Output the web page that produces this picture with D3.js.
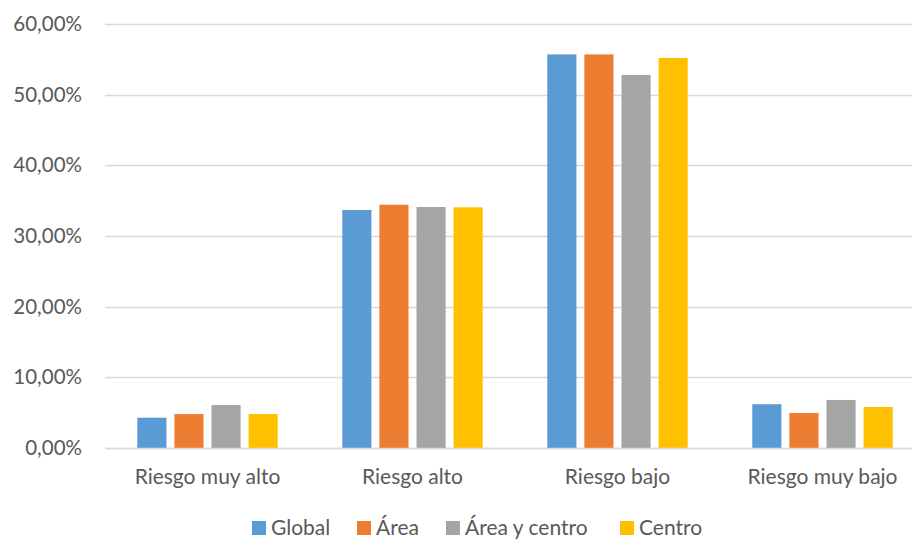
<!DOCTYPE html>
<html>
<head>
<meta charset="utf-8">
<script src="https://cdn.jsdelivr.net/npm/d3@7"></script>
<style>
  body { margin: 0; background: #fff; }
  svg { display: block; font-family: Lato, "Open Sans", sans-serif; }
</style>
</head>
<body>
<div id="chart"></div>
<script>
// data
var categories = ["Riesgo muy alto", "Riesgo alto", "Riesgo bajo", "Riesgo muy bajo"];
var seriesNames = ["Global", "Área", "Área y centro", "Centro"];
var seriesColors = ["#5B9BD5", "#ED7D31", "#A5A5A5", "#FFC000"];
var globalVals = [0.0429, 0.3368, 0.5570, 0.0620];
var areaVals = [0.0480, 0.3443, 0.5570, 0.0495];
var areaCentroVals = [0.0608, 0.3410, 0.5280, 0.0680];
var centroVals = [0.0480, 0.3406, 0.5520, 0.0580];
var yTicks = [0, 0.1, 0.2, 0.3, 0.4, 0.5, 0.6];

var seriesVals = [globalVals, areaVals, areaCentroVals, centroVals];

var W = 912, H = 541;
var margin = {top: 24, left: 105, bottom: 93};
var plotRight = 925; // plot area runs past the right edge in the original

var svg = d3.select("#chart").append("svg")
    .attr("width", W)
    .attr("height", H);

var x0 = d3.scaleBand().domain(categories).range([margin.left, plotRight]).paddingInner(0.315).paddingOuter(0.1575);
var x1 = d3.scaleBand().domain(seriesNames).range([0, x0.bandwidth()]).paddingInner(0.215).paddingOuter(0);
var y = d3.scaleLinear().domain([0, 0.6]).range([H - margin.bottom, margin.top]);

var fmt = function(d) { return d3.format(".2f")(d * 100).replace(".", ",") + "%"; };

// gridlines
svg.append("g")
    .selectAll("line")
    .data(yTicks)
    .enter().append("line")
    .attr("x1", margin.left)
    .attr("x2", plotRight)
    .attr("y1", function(d) { return Math.round(y(d)) + 0.5; })
    .attr("y2", function(d) { return Math.round(y(d)) + 0.5; })
    .attr("stroke", "#d9d9d9")
    .attr("stroke-width", 1.3);

// y labels
var yAxis = d3.axisLeft(y).tickValues(yTicks).tickFormat(fmt).tickSize(0).tickPadding(23);
var ya = svg.append("g")
    .attr("transform", "translate(" + margin.left + ",0)")
    .call(yAxis);
ya.select(".domain").remove();
ya.selectAll("text").attr("fill", "#595959").attr("font-size", 20.5).attr("font-family", "Lato, sans-serif");

// bars
var groups = svg.append("g").selectAll("g")
    .data(seriesNames)
    .enter().append("g")
    .attr("fill", function(d, i) { return seriesColors[i]; });

groups.selectAll("rect")
    .data(function(s, si) { return categories.map(function(c, ci) { return {cat: c, s: s, v: seriesVals[si][ci]}; }); })
    .enter().append("rect")
    .attr("x", function(d) { return x0(d.cat) + x1(d.s); })
    .attr("y", function(d) { return y(d.v); })
    .attr("width", x1.bandwidth())
    .attr("height", function(d) { return y(0) - y(d.v); });

// baseline redraw over bars
svg.append("line")
    .attr("x1", margin.left).attr("x2", plotRight)
    .attr("y1", Math.round(y(0)) + 0.5).attr("y2", Math.round(y(0)) + 0.5)
    .attr("stroke", "#d9d9d9").attr("stroke-width", 1.3);

// category labels
var xAxis = d3.axisBottom(x0).tickSize(0).tickPadding(21);
var xa = svg.append("g")
    .attr("transform", "translate(0," + y(0) + ")")
    .call(xAxis);
xa.select(".domain").remove();
xa.selectAll("text").attr("fill", "#595959").attr("font-size", 21).attr("font-family", "Lato, sans-serif");

// legend
var legendX = [252, 357, 446, 620];
var legend = svg.append("g").selectAll("g")
    .data(seriesNames)
    .enter().append("g")
    .attr("transform", function(d, i) { return "translate(" + legendX[i] + ",521)"; });
legend.append("rect")
    .attr("width", 14).attr("height", 14)
    .attr("fill", function(d, i) { return seriesColors[i]; });
legend.append("text")
    .attr("x", 19).attr("y", 14)
    .attr("fill", "#595959").attr("font-size", 21)
    .text(function(d) { return d; });
</script>
</body>
</html>
